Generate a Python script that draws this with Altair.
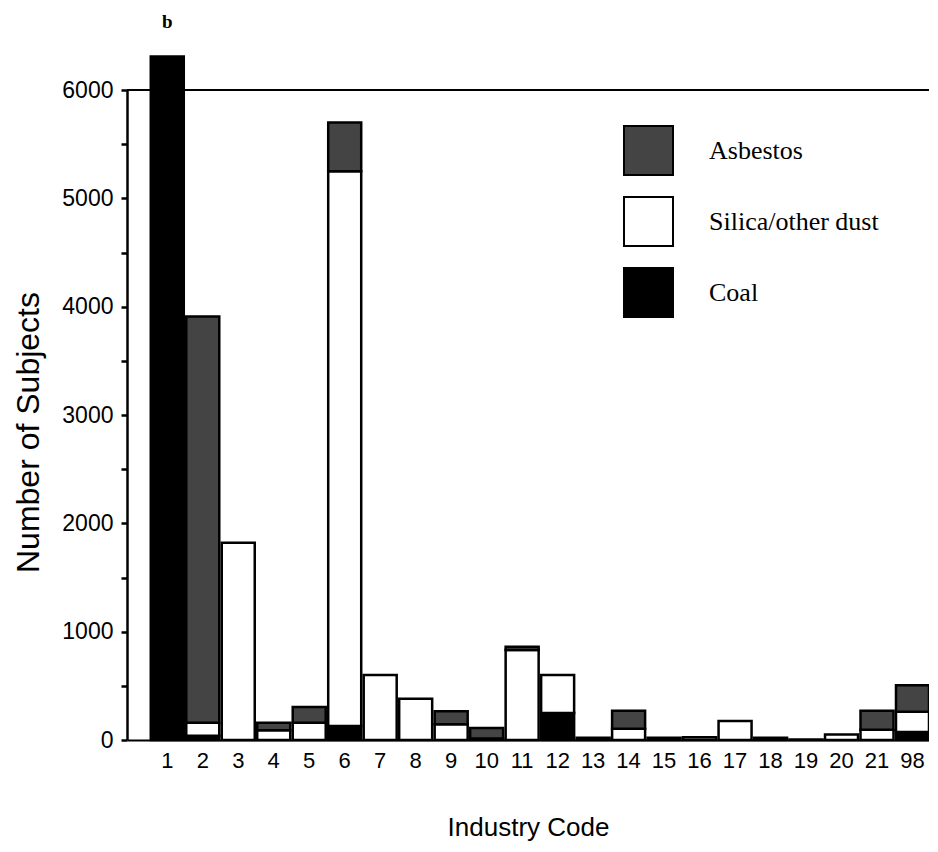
import altair as alt
import pandas as pd

# ---- data ----
codes = ["1", "2", "3", "4", "5", "6", "7", "8", "9", "10", "11",
         "12", "13", "14", "15", "16", "17", "18", "19", "20", "21", "98"]
coal = [6310, 40, 0, 0, 0, 130, 0, 0, 0, 0, 0,
        250, 0, 0, 0, 0, 0, 0, 0, 0, 0, 75]
silica = [0, 120, 1820, 90, 160, 5120, 600, 380, 145, 15, 830,
          350, 20, 105, 20, 25, 175, 20, 5, 50, 95, 185]
asbestos = [0, 3750, 0, 70, 145, 450, 0, 0, 120, 95, 30,
            0, 0, 165, 0, 0, 0, 0, 0, 0, 175, 245]

series_names = ["Asbestos", "Silica/other dust", "Coal"]
series_colors = ["#444444", "#ffffff", "#000000"]
y_ticks = list(range(0, 6001, 500))
panel_label = "b"
panel_label_code = "1"

rows = []
for i, c in enumerate(codes):
    for name, vals, order in [("Coal", coal, 0),
                              ("Silica/other dust", silica, 1),
                              ("Asbestos", asbestos, 2)]:
        if vals[i] > 0:
            rows.append({"code": c, "series": name, "value": vals[i], "order": order})
df = pd.DataFrame(rows)

SANS = "Liberation Sans"
SERIF = "Liberation Serif"

x_enc = alt.X(
    "code:N",
    sort=codes,
    scale=alt.Scale(paddingInner=0.07, paddingOuter=0.335, align=1),
    axis=alt.Axis(
        title="Industry Code",
        labelAngle=0,
        ticks=False,
        labelPadding=10,
        labelFont=SANS,
        labelFontSize=22,
        labelColor="black",
        titleFont=SANS,
        titleFontSize=26,
        titleFontWeight="normal",
        titleColor="black",
        titleBaseline="alphabetic",
        titleY=95,
        domainColor="black",
        domainWidth=2,
    ),
)

bars = alt.Chart(df).mark_bar(stroke="black", strokeWidth=2.5, clip=False).encode(
    x=x_enc,
    y=alt.Y(
        "value:Q",
        stack="zero",
        scale=alt.Scale(domain=[0, 6000], nice=False),
        axis=alt.Axis(
            title="Number of Subjects",
            values=y_ticks,
            format="d",
            labelExpr="datum.value % 1000 == 0 ? datum.label : ''",
            grid=False,
            tickSize=6,
            tickWidth=2.5,
            tickColor="black",
            labelPadding=8,
            labelFont=SANS,
            labelFontSize=23,
            labelColor="black",
            titleFont=SANS,
            titleFontSize=32,
            titleFontWeight="normal",
            titleColor="black",
            titleBaseline="middle",
            titleX=-99,
            titleY=342,
            domainColor="black",
            domainWidth=2.5,
        ),
    ),
    color=alt.Color(
        "series:N",
        scale=alt.Scale(domain=series_names, range=series_colors),
        legend=alt.Legend(
            orient="none",
            legendX=496,
            legendY=35,
            title=None,
            symbolType="square",
            symbolSize=2401,
            symbolStrokeColor="black",
            symbolStrokeWidth=2,
            symbolOpacity=1,
            labelFont=SERIF,
            labelFontSize=26,
            labelColor="black",
            labelOffset=35,
            labelLimit=400,
            rowPadding=14,
            padding=0,
        ),
    ),
    order=alt.Order("order:Q"),
)

top_line = alt.Chart(pd.DataFrame({"y": [6000]})).mark_rule(
    color="black", strokeWidth=2
).encode(y="y:Q")

label_df = pd.DataFrame({"code": [panel_label_code], "txt": [panel_label]})
panel = alt.Chart(label_df).mark_text(
    font=SERIF, fontSize=19, fontWeight="bold", color="black",
    baseline="alphabetic", align="center",
).encode(
    x=alt.X("code:N", sort=codes),
    y=alt.value(-62),
    text="txt:N",
)

chart = alt.layer(bars, top_line, panel).properties(
    width=802,
    height=650,
    autosize=alt.AutoSizeParams(type="none"),
    padding={"left": 119, "top": 82, "right": 0, "bottom": 104},
).configure_view(strokeWidth=0)

chart.save("out.html", embed_options={"renderer": "svg", "actions": False})
